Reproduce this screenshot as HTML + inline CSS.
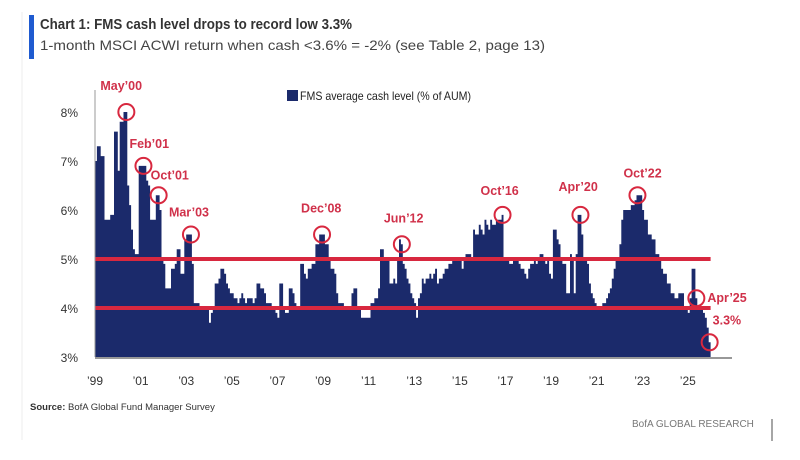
<!DOCTYPE html>
<html><head><meta charset="utf-8"><style>
body{margin:0;background:#fff;width:800px;height:455px;overflow:hidden;font-family:"Liberation Sans",sans-serif}
</style></head><body>
<svg width="800" height="455" xmlns="http://www.w3.org/2000/svg" font-family="Liberation Sans, sans-serif">
<line x1="22" y1="12" x2="22" y2="440" stroke="#eee" stroke-width="1"/>
<rect x="29" y="15" width="5" height="44" fill="#1f5bd0"/>
<text x="40" y="29" font-size="15" font-weight="bold" fill="#333" textLength="312" lengthAdjust="spacingAndGlyphs">Chart 1: FMS cash level drops to record low 3.3%</text>
<text x="40" y="50" font-size="14" fill="#444" textLength="505" lengthAdjust="spacingAndGlyphs">1-month MSCI ACWI return when cash &lt;3.6% = -2% (see Table 2, page 13)</text>
<rect x="287" y="90" width="11" height="11" fill="#1b2a6b"/>
<text x="300" y="100" font-size="12" fill="#222" textLength="171" lengthAdjust="spacingAndGlyphs">FMS average cash level (% of AUM)</text>
<g id="bars"></g>
<g id="axes"></g>
<g id="annot"></g>
<text x="30" y="410" font-size="9.5" fill="#333"><tspan font-weight="bold">Source:</tspan> BofA Global Fund Manager Survey</text>
<text x="632" y="427" font-size="10" fill="#777">BofA GLOBAL RESEARCH</text>
<line x1="772" y1="419" x2="772" y2="441" stroke="#888" stroke-width="1.5"/>
</svg>
<script>
const years=['99','01','03','05','07','09','11','13','15','17','19','21','23','25'];
const yTicks=[3,4,5,6,7,8];
const thresholds=[5,4];
const cash=[
7.0,7.3,7.3,7.1,7.1,5.8,5.8,5.8,5.9,5.9,7.6,7.6,
6.8,7.8,7.8,8.0,8.0,6.5,6.1,5.6,5.2,5.1,5.1,6.9,
6.9,6.9,6.9,6.6,6.5,5.8,5.8,5.8,6.3,6.3,6.0,5.0,
4.9,4.4,4.4,4.4,4.8,4.8,4.9,5.2,5.2,4.7,4.7,5.4,
5.5,5.5,5.5,4.9,4.1,4.1,4.1,4.0,4.0,4.0,4.0,4.0,
3.7,3.9,4.0,4.5,4.5,4.6,4.8,4.8,4.7,4.5,4.4,4.3,
4.3,4.2,4.2,4.1,4.2,4.3,4.2,4.1,4.2,4.2,4.2,4.1,
4.2,4.5,4.5,4.4,4.4,4.3,4.1,4.1,4.1,4.0,4.0,3.9,
3.8,4.5,4.5,4.0,3.9,3.9,4.4,4.4,4.3,4.1,4.0,4.0,
4.9,4.9,4.7,4.6,4.8,4.8,4.9,4.9,5.3,5.3,5.5,5.5,
5.5,5.3,5.3,5.0,4.8,4.8,4.7,4.3,4.1,4.1,4.1,4.0,
4.0,4.0,4.0,4.3,4.4,4.4,4.0,4.0,3.8,3.8,3.8,3.8,
3.8,4.1,4.1,4.2,4.2,4.4,5.2,5.2,5.0,5.0,5.0,4.5,
4.5,4.6,4.5,5.0,5.4,5.3,4.9,4.8,4.6,4.5,4.3,4.2,
4.1,3.8,4.2,4.3,4.6,4.5,4.6,4.6,4.7,4.6,4.7,4.8,
4.5,4.6,4.6,4.7,4.8,4.8,4.9,4.9,5.0,5.0,5.0,5.0,
5.0,4.8,5.0,5.1,5.1,5.1,5.0,5.6,5.5,5.5,5.7,5.6,
5.5,5.8,5.7,5.6,5.8,5.7,5.7,5.8,5.8,5.8,5.9,5.0,
5.0,5.0,4.9,4.9,5.0,5.0,5.0,4.9,4.8,4.8,4.7,4.6,
4.8,4.9,4.9,5.0,4.9,5.0,5.1,5.1,5.0,4.9,5.0,4.7,
4.6,5.6,5.6,5.4,5.3,5.0,4.9,4.9,4.3,4.3,5.1,5.0,
4.3,5.1,5.9,5.9,5.5,5.0,5.0,4.9,4.5,4.3,4.2,4.1,
4.0,4.0,4.0,4.1,4.1,4.2,4.3,4.4,4.6,4.8,5.0,5.0,
5.3,5.8,6.0,6.0,6.0,6.0,6.1,6.1,6.2,6.3,6.3,6.3,
6.0,5.8,5.8,5.5,5.5,5.4,5.4,5.1,5.1,5.0,4.8,4.7,
4.7,4.5,4.5,4.3,4.3,4.2,4.2,4.3,4.3,4.3,4.0,4.0,
3.9,4.2,4.8,4.8,4.2,4.0,4.0,4.0,3.9,3.8,3.6,3.3];
const annLabels=['May\u201900','Feb\u201901','Oct\u201901','Mar\u201903','Dec\u201908','Jun\u201912','Oct\u201916','Apr\u201920','Oct\u201922','Apr\u201925','3.3%'];
const annIndex=[16,25,33,50,119,161,214,255,285,316,323];
const annDx=[-26,-14,-8,-22,-21,-18,-22,-22,-14,11,3];
const annDy=[-22,-18,-16,-18,-22,-22,-20,-24,-18,4,-18];

const NS='http://www.w3.org/2000/svg';
const X0=95,PXY=22.8,Y3=357,PXP=49;
const xs=i=>X0+(i/12)*PXY;
const ys=v=>Y3-(v-3)*PXP;
function mk(tag,attrs,parent){const e=document.createElementNS(NS,tag);for(const k in attrs)e.setAttribute(k,attrs[k]);parent.appendChild(e);return e;}
const bars=document.getElementById('bars'),axes=document.getElementById('axes'),ann=document.getElementById('annot');
let d='M'+xs(0)+' '+Y3;
cash.forEach((v,i)=>{d+=' L'+xs(i)+' '+ys(v)+' L'+xs(i+1)+' '+ys(v);});
d+=' L'+xs(cash.length)+' '+Y3+' Z';
const area=mk('path',{d:d,fill:'#1b2a6b'},bars);


const xEnd=xs(cash.length);
thresholds.forEach(t=>{
 const l=mk('line',{x1:X0,x2:xEnd,y1:ys(t),y2:ys(t),stroke:'#d8283f','stroke-width':4},axes);
 
 
});
const yl=mk('line',{x1:X0,x2:X0,y1:90,y2:Y3,stroke:'#999','stroke-width':1},axes);


const xl=mk('line',{x1:X0,x2:732,y1:Y3+1,y2:Y3+1,stroke:'#777','stroke-width':1.5},axes);


yTicks.forEach(t=>{
 const e=mk('text',{x:78,y:ys(t)+5,'font-size':12,'text-anchor':'end',fill:'#333'},axes);
 e.textContent=t+'%';
 
 
});
years.forEach((y,k)=>{
 const e=mk('text',{x:X0+k*2*PXY,y:385,'font-size':12,'text-anchor':'middle',fill:'#333'},axes);
 e.textContent='\u2019'+y;
 
 
});
annIndex.forEach((idx,k)=>{
 const cx=xs(idx+0.5),cy=ys(cash[idx]);
 const c=mk('circle',{cx:cx,cy:cy,r:8,fill:'none',stroke:'#d8283f','stroke-width':2},ann);
 
 
 const t=mk('text',{x:cx+annDx[k],y:cy+annDy[k],'font-size':12.5,'font-weight':'bold',fill:'#d0314a'},ann);
 t.textContent=annLabels[k];
 
 
});
</script>
</body></html>
